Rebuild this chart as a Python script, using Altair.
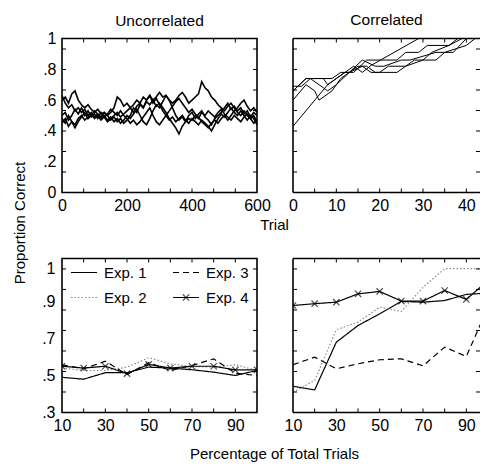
import altair as alt
import pandas as pd

FONT = "Liberation Sans"
W, H = 195, 154
WR = 187  # right-hand panels are cut by the right edge of the picture

# ---------------- data ----------------
unc_trials = list(range(0, 601, 10))
unc_run1 = [.60,.62,.58,.64,.66,.60,.57,.55,.57,.54,.52,.54,.51,.52,.50,.52,.55,.62,.60,.56,
            .58,.55,.57,.60,.58,.62,.60,.63,.60,.62,.65,.62,.63,.60,.58,.60,.63,.65,.62,.58,
            .60,.62,.64,.72,.68,.66,.62,.60,.57,.55,.53,.56,.58,.55,.52,.50,.53,.50,.48,.50,.46]
unc_run2 = [.48,.45,.50,.46,.44,.48,.50,.47,.49,.51,.48,.50,.47,.49,.46,.48,.50,.52,.49,.51,
            .53,.55,.52,.56,.58,.55,.59,.57,.60,.56,.58,.55,.52,.48,.45,.42,.38,.43,.46,.48,
            .47,.50,.48,.52,.50,.53,.51,.49,.52,.54,.51,.49,.47,.50,.48,.46,.49,.51,.48,.45,.47]
unc_run3 = [.63,.58,.55,.57,.53,.55,.52,.54,.50,.52,.49,.51,.48,.50,.47,.49,.46,.48,.45,.47,
            .50,.48,.51,.54,.50,.46,.44,.48,.53,.57,.55,.59,.63,.60,.55,.50,.47,.49,.46,.50,
            .52,.48,.51,.53,.49,.47,.44,.48,.50,.52,.55,.58,.54,.56,.53,.55,.51,.53,.49,.52,.50]
unc_run4 = [.45,.48,.43,.46,.42,.46,.49,.52,.48,.50,.53,.51,.49,.52,.50,.47,.49,.46,.48,.45,
            .47,.50,.55,.52,.57,.55,.60,.63,.58,.61,.57,.53,.50,.47,.49,.46,.48,.50,.47,.45,
            .48,.46,.44,.47,.45,.43,.40,.44,.48,.51,.49,.52,.55,.52,.50,.53,.50,.47,.50,.48,.44]
unc_run5 = [.50,.52,.47,.50,.54,.51,.55,.50,.53,.49,.51,.48,.52,.49,.51,.54,.52,.50,.53,.50,
            .48,.45,.47,.44,.46,.49,.52,.55,.50,.46,.44,.47,.50,.53,.56,.59,.61,.58,.55,.52,
            .54,.51,.49,.46,.44,.42,.45,.47,.45,.48,.50,.47,.50,.53,.55,.58,.60,.56,.53,.55,.52]

cor_run1_t = [0, 8, 10, 12, 14, 17, 24, 26, 29, 31, 36, 38, 45]
cor_run1_v = [.43, .70, .74, .78, .78, .86, .86, .91, .91, .955, .955, 1.0, 1.0]
cor_run2_t = [0, 3, 9, 11, 13, 16, 19, 21, 25, 27, 33, 35, 40, 42, 45]
cor_run2_v = [.66, .74, .74, .78, .78, .86, .82, .82, .86, .86, .91, .91, .955, 1.0, 1.0]
cor_run3_t = [0, 3, 7, 8, 10, 12, 14, 16, 18, 29, 45]
cor_run3_v = [.66, .74, .74, .70, .74, .78, .82, .78, .825, 1.0, 1.0]
cor_run4_t = [0, 2, 4, 6, 8, 10, 13, 16, 18, 20, 22, 26, 28, 33, 35, 37, 40, 45]
cor_run4_v = [.69, .69, .74, .70, .66, .70, .78, .82, .78, .78, .82, .82, .86, .86, .91, .91, 1.0, 1.0]
cor_run5_t = [0, 3, 5, 6, 9, 11, 13, 15, 17, 19, 24, 26, 30, 32, 36, 39, 45]
cor_run5_v = [.60, .70, .66, .60, .66, .74, .78, .82, .82, .78, .78, .82, .86, .91, .955, 1.0, 1.0]

pct = [10, 20, 30, 40, 50, 60, 70, 80, 90, 100]
exp_names = ["Exp. 1", "Exp. 2", "Exp. 3", "Exp. 4"]
unc_exp1 = [.49, .48, .515, .515, .545, .54, .531, .518, .50, .527]
unc_exp2 = [.54, .527, .527, .545, .596, .563, .549, .545, .558, .527]
unc_exp3 = [.558, .536, .577, .505, .569, .527, .554, .59, .512, .50]
unc_exp4 = [.55, .54, .55, .51, .56, .54, .55, .55, .53, .53]
cor_exp1 = [.442, .422, .68, .77, .833, .90, .896, .905, .938, .945]
cor_exp2 = [.41, .473, .747, .788, .869, .846, .977, 1.077, 1.077, 1.077]
cor_exp3 = [.558, .599, .536, .563, .585, .59, .552, .653, .603, .869]
cor_exp4 = [.878, .888, .896, .941, .954, .902, .902, .959, .911, 1.013]

# ---------------- tables ----------------
unc_df = pd.concat([pd.DataFrame({"x": unc_trials, "y": v, "run": i})
                    for i, v in enumerate([unc_run1, unc_run2, unc_run3, unc_run4, unc_run5])])
cor_df = pd.concat([pd.DataFrame({"x": t, "y": v, "run": i})
                    for i, (t, v) in enumerate([(cor_run1_t, cor_run1_v), (cor_run2_t, cor_run2_v),
                                                (cor_run3_t, cor_run3_v), (cor_run4_t, cor_run4_v),
                                                (cor_run5_t, cor_run5_v)])])
bl_df = pd.concat([pd.DataFrame({"x": pct, "y": v, "exp": n})
                   for n, v in zip(exp_names, [unc_exp1, unc_exp2, unc_exp3, unc_exp4])])
br_df = pd.concat([pd.DataFrame({"x": pct, "y": v, "exp": n})
                   for n, v in zip(exp_names, [cor_exp1, cor_exp2, cor_exp3, cor_exp4])])

X_MARK = "M-1,-1L1,1M-1,1L1,-1"
ONE = pd.DataFrame({"k": [0]})


def label_axis(values, expr=None, title=None, **kw):
    p = dict(values=values, labelFont=FONT, labelFontSize=16, labelColor="black",
             ticks=False, tickSize=0, domain=False, grid=False, labelOverlap=False,
             labelFlush=False, labelBound=False, title=title)
    if expr:
        p["labelExpr"] = expr
    p.update(kw)
    return alt.Axis(**p)


def tick_layers(xs, ys, xax, yax, xticks, yticks, w):
    ydf = pd.DataFrame({"t": yticks})
    xdf = pd.DataFrame({"t": xticks})
    base_y = alt.Chart(ydf).mark_rule(color="black", strokeWidth=1)
    base_x = alt.Chart(xdf).mark_rule(color="black", strokeWidth=1)
    return [
        base_y.encode(y=alt.Y("t:Q", scale=ys, axis=yax), x=alt.value(0), x2=alt.value(4)),
        base_y.encode(y=alt.Y("t:Q", scale=ys, axis=yax), x=alt.value(w - 4), x2=alt.value(w)),
        base_x.encode(x=alt.X("t:Q", scale=xs, axis=xax), y=alt.value(H - 4), y2=alt.value(H)),
        base_x.encode(x=alt.X("t:Q", scale=xs, axis=xax), y=alt.value(0), y2=alt.value(4)),
    ]


def open_frame(w):
    """left, top and bottom border of a panel whose right side is cut off"""
    b = alt.Chart(ONE).mark_rule(color="black", strokeWidth=1.6)
    return [
        b.encode(x=alt.value(0), y=alt.value(0), y2=alt.value(H)),
        b.encode(x=alt.value(0), x2=alt.value(w), y=alt.value(0)),
        b.encode(x=alt.value(0), x2=alt.value(w), y=alt.value(H)),
    ]


top_ylab = "datum.value == 0 ? '0' : datum.value == 1 ? '1' : replace(format(datum.value, '.1f'), '0.', '.')"
bot_ylab = "datum.value > 1 ? '1' : replace(format(datum.value, '.1f'), '0.', '.')"
top_yticks = [k * 20.5 / 154 for k in range(1, 8)]
bot_yticks = [0.3 + k * 0.1108 for k in range(1, 8)]
title_kw = dict(font=FONT, fontSize=15.5, fontWeight="normal", color="black")
atitle_kw = dict(titleFont=FONT, titleFontSize=15, titleFontWeight="normal", titleColor="black",
                 titleBaseline="middle", titleAlign="center")

# ---- top-left: Uncorrelated ----
xs_tl = alt.Scale(domain=[0, 600], nice=False, zero=False)
ys_top = alt.Scale(domain=[0, 1], nice=False, zero=False)
ax_tl_x = label_axis([0, 200, 400, 600], labelPadding=5)
ax_tl_y = label_axis([0, .2, .4, .6, .8, 1], top_ylab, labelPadding=6,
                     title="Proportion Correct", titleX=-43, titleY=184,
                     titleAngle=270, **atitle_kw)
tl_lines = alt.Chart(unc_df).mark_line(color="black", strokeWidth=1.6, clip=True).encode(
    x=alt.X("x:Q", scale=xs_tl, axis=ax_tl_x),
    y=alt.Y("y:Q", scale=ys_top, axis=ax_tl_y),
    detail="run:N")
TL = alt.layer(tl_lines, *tick_layers(xs_tl, ys_top, ax_tl_x, ax_tl_y,
                                      [k * 600 / 9 for k in range(1, 9)], top_yticks, W)
               ).properties(width=W, height=H,
                            title=alt.TitleParams("Uncorrelated", offset=1.5, **title_kw))

# ---- top-right: Correlated ----
xs_tr = alt.Scale(domain=[0, 45 * WR / W], nice=False, zero=False)
ax_tr_x = label_axis([0, 10, 20, 30, 40], labelPadding=5, title="Trial",
                     titleX=-19, titleY=32, **atitle_kw)
tr_lines = alt.Chart(cor_df).mark_line(color="black", strokeWidth=1.0, clip=True).encode(
    x=alt.X("x:Q", scale=xs_tr, axis=ax_tr_x),
    y=alt.Y("y:Q", scale=ys_top, axis=None),
    detail="run:N")
TR = alt.layer(tr_lines, *tick_layers(xs_tr, ys_top, ax_tr_x, None, list(range(5, 45, 5)),
                                      top_yticks, WR), *open_frame(WR)
               ).properties(width=WR, height=H, view=alt.ViewBackground(strokeWidth=0),
                            title=alt.TitleParams("Correlated", offset=9.5, **title_kw))

# ---- bottom panels ----
ys_bot = alt.Scale(domain=[0.3, 1.132], nice=False, zero=False)
xs_bl = alt.Scale(domain=[10, 100], nice=False, zero=False)
xs_br = alt.Scale(domain=[10, 10 + 90 * WR / W], nice=False, zero=False)
dash_scale = alt.Scale(domain=exp_names, range=[[1, 0], [1.5, 2], [6, 4], [1, 0]])
color_scale = alt.Scale(domain=exp_names, range=["black", "#8c8c8c", "black", "black"])


def bottom_panel(df, xs, xaxis, yaxis, w, legend=False):
    lines = alt.Chart(df).mark_line(strokeWidth=1.2, clip=True).encode(
        x=alt.X("x:Q", scale=xs, axis=xaxis),
        y=alt.Y("y:Q", scale=ys_bot, axis=yaxis),
        color=alt.Color("exp:N", scale=color_scale, legend=None),
        strokeDash=alt.StrokeDash("exp:N", scale=dash_scale, legend=None),
        detail="exp:N")
    marks = alt.Chart(df).transform_filter(alt.datum.exp == "Exp. 4").mark_point(
        shape=X_MARK, size=40, color="black", strokeWidth=1.2, filled=False, clip=True).encode(
        x=alt.X("x:Q", scale=xs, axis=xaxis), y=alt.Y("y:Q", scale=ys_bot, axis=yaxis))
    layers = [lines, marks] + tick_layers(xs, ys_bot, xaxis, yaxis, list(range(20, 100, 10)),
                                          bot_yticks, w)
    if legend:
        ldf = pd.DataFrame({"exp": exp_names})
        pos = {"Exp. 1": (9, 14), "Exp. 2": (9, 39), "Exp. 3": (111, 14), "Exp. 4": (111, 39)}
        dashes = {"Exp. 1": [1, 0], "Exp. 2": [1.5, 2], "Exp. 3": [6, 4], "Exp. 4": [1, 0]}
        cols = {"Exp. 1": "black", "Exp. 2": "#8c8c8c", "Exp. 3": "black", "Exp. 4": "black"}
        for n in exp_names:
            lx, ly = pos[n]
            sub = alt.Chart(ldf).transform_filter(alt.datum.exp == n)
            layers.append(sub.mark_rule(color=cols[n], strokeDash=dashes[n], strokeWidth=1.2).encode(
                x=alt.value(lx), x2=alt.value(lx + 26), y=alt.value(ly)))
            layers.append(sub.mark_text(align="left", baseline="middle", font=FONT, fontSize=15,
                                        color="black").encode(
                x=alt.value(lx + 33), y=alt.value(ly), text="exp:N"))
        sub4 = alt.Chart(ldf).transform_filter(alt.datum.exp == "Exp. 4")
        layers.append(sub4.mark_point(shape=X_MARK, size=40, color="black", strokeWidth=1.2,
                                      filled=False).encode(x=alt.value(124), y=alt.value(39)))
    if w != W:
        layers += open_frame(w)
        return alt.layer(*layers).properties(width=w, height=H,
                                             view=alt.ViewBackground(strokeWidth=0))
    return alt.layer(*layers).properties(width=w, height=H)


BL = bottom_panel(
    bl_df, xs_bl,
    label_axis([10, 30, 50, 70, 90], labelPadding=5),
    label_axis([.3, .5, .7, .9, 1.078], bot_ylab, labelPadding=7),
    W, legend=True)
BR = bottom_panel(
    br_df, xs_br,
    label_axis([10, 30, 50, 70, 90], labelPadding=5, title="Percentage of Total Trials",
               titleX=-19, titleY=41, **atitle_kw),
    None, WR)

chart = alt.concat(TL, TR, BL, BR, columns=2, spacing={"row": 66, "column": 36},
                   bounds="flush").properties(
    padding={"left": 3, "top": 4.5, "right": 0, "bottom": 0}
).configure_view(stroke="black", strokeWidth=1.6)

chart.save("out.html", embed_options={"renderer": "svg", "actions": False})
